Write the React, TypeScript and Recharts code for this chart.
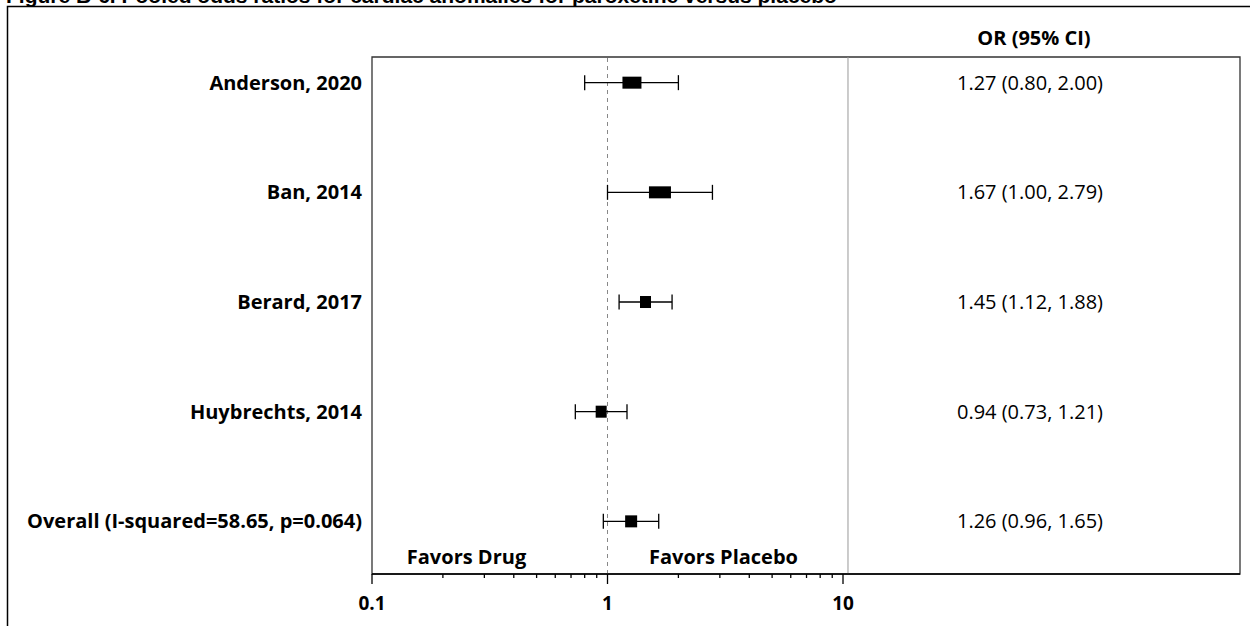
import React from 'react';
import { ScatterChart, Scatter, XAxis, YAxis, ErrorBar, ReferenceLine, ReferenceArea } from 'recharts';

const studies = ['Anderson, 2020', 'Ban, 2014', 'Berard, 2017', 'Huybrechts, 2014', 'Overall (I-squared=58.65, p=0.064)'];
const oddsRatios = [1.27, 1.67, 1.45, 0.94, 1.26];
const lowerCI = [0.8, 1.0, 1.12, 0.73, 0.96];
const upperCI = [2.0, 2.79, 1.88, 1.21, 1.65];
// relative study weight, drives the box width
const weights = [19, 22, 11, 11, 12];
const majorTicks = [0.1, 1, 10];
const minorTicks = [0.2, 0.3, 0.4, 0.5, 0.6, 0.7, 0.8, 0.9, 2, 3, 4, 5, 6, 7, 8, 9];

const TITLE = 'Figure B-6. Pooled odds ratios for cardiac anomalies for paroxetine versus placebo';
const FONT = '"Open Sans", "DejaVu Sans", sans-serif';

const fmt = (v: number) => v.toFixed(2);

const rows = studies.map((name, i) => ({
  row: i,
  name,
  or: oddsRatios[i],
  err: [oddsRatios[i] - lowerCI[i], upperCI[i] - oddsRatios[i]],
  weight: weights[i],
}));

const allTicks = [...majorTicks, ...minorTicks].sort((a, b) => a - b);
const Y_DOMAIN: [number, number] = [-0.234, 4.48];
const X_DOMAIN: [number, number] = [0.1, 485];
const SEPARATOR = 10.5;

const XTick = (props: any) => {
  const { x, y, payload } = props;
  const major = majorTicks.includes(payload.value);
  return (
    <g>
      <line x1={x} x2={x} y1={y} y2={y + (major ? 10 : 4)} stroke="#000" strokeWidth={1.3} />
      {major && (
        <text x={x} y={y + 36} textAnchor="middle" fontFamily={FONT} fontWeight={700} fontSize={19} fill="#000">
          {payload.value}
        </text>
      )}
    </g>
  );
};

// study name on the left, OR (95% CI) text in the right column of the same row
const StudyTick = (props: any) => {
  const { x, y, payload } = props;
  const i = payload.value;
  return (
    <g fontFamily={FONT} fontSize={20} fill="#000">
      <text x={x} y={y + 7} textAnchor="end" fontWeight={700}>
        {studies[i]}
      </text>
      <text x={x + 668} y={y + 7} textAnchor="middle">
        {`${fmt(oddsRatios[i])} (${fmt(lowerCI[i])}, ${fmt(upperCI[i])})`}
      </text>
    </g>
  );
};

const FavorsLabel = (props: any) => {
  const { x, y, height } = props.viewBox;
  const base = y + height - 10;
  return (
    <g fontFamily={FONT} fontWeight={700} fontSize={20} fill="#000">
      <text x={x - 141} y={base} textAnchor="middle">Favors Drug</text>
      <text x={x + 116} y={base} textAnchor="middle">Favors Placebo</text>
    </g>
  );
};

const Box = (props: any) => {
  const { cx, cy, payload } = props;
  const w = payload.weight;
  return <rect x={cx - w / 2} y={cy - 6} width={w} height={12} fill="#000" />;
};

export default function App() {
  return (
    <div style={{ position: 'absolute', left: 0, top: 0, width: 1250, height: 626, background: '#fff', overflow: 'hidden' }}>
      <svg width={1250} height={626} style={{ position: 'absolute', left: 0, top: 0 }}>
        <text x={6} y={3} fontFamily='"Liberation Sans", Arial, sans-serif' fontWeight={700} fontSize={21} fill="#000">
          {TITLE}
        </text>
        <path d="M7.5 626 V6.5 H1250" fill="none" stroke="#000" strokeWidth={1.5} />
        <text x={1034} y={45} textAnchor="middle" fontFamily={FONT} fontWeight={700} fontSize={20} fill="#000">
          OR (95% CI)
        </text>
      </svg>
      <div style={{ position: 'absolute', left: 0, top: 0 }}>
        <ScatterChart width={1250} height={626} margin={{ top: 57, right: 10, bottom: 12, left: 0 }}>
          <ReferenceArea
            x1={X_DOMAIN[0]}
            x2={X_DOMAIN[1]}
            y1={Y_DOMAIN[0]}
            y2={Y_DOMAIN[1]}
            fill="none"
            stroke="#333"
            strokeWidth={1.3}
            ifOverflow="visible"
          />
          <ReferenceLine x={SEPARATOR} stroke="#999" strokeWidth={1} />
          <ReferenceLine x={1} stroke="#888" strokeDasharray="4 4" label={FavorsLabel} />
          <XAxis
            dataKey="or"
            type="number"
            scale="log"
            domain={X_DOMAIN}
            allowDataOverflow
            ticks={allTicks}
            interval={0}
            height={40}
            tickSize={0}
            tickMargin={0}
            tickLine={false}
            axisLine={{ stroke: '#000', strokeWidth: 1.3 }}
            tick={XTick}
          />
          <YAxis
            dataKey="row"
            type="number"
            domain={Y_DOMAIN}
            reversed
            allowDataOverflow
            ticks={[0, 1, 2, 3, 4]}
            interval={0}
            width={372}
            tickSize={0}
            tickMargin={10}
            axisLine={false}
            tickLine={false}
            tick={StudyTick}
          />
          <Scatter data={rows} shape={Box} isAnimationActive={false}>
            <ErrorBar dataKey="err" direction="x" width={7.5} stroke="#000" strokeWidth={1.3} />
          </Scatter>
        </ScatterChart>
      </div>
    </div>
  );
}
